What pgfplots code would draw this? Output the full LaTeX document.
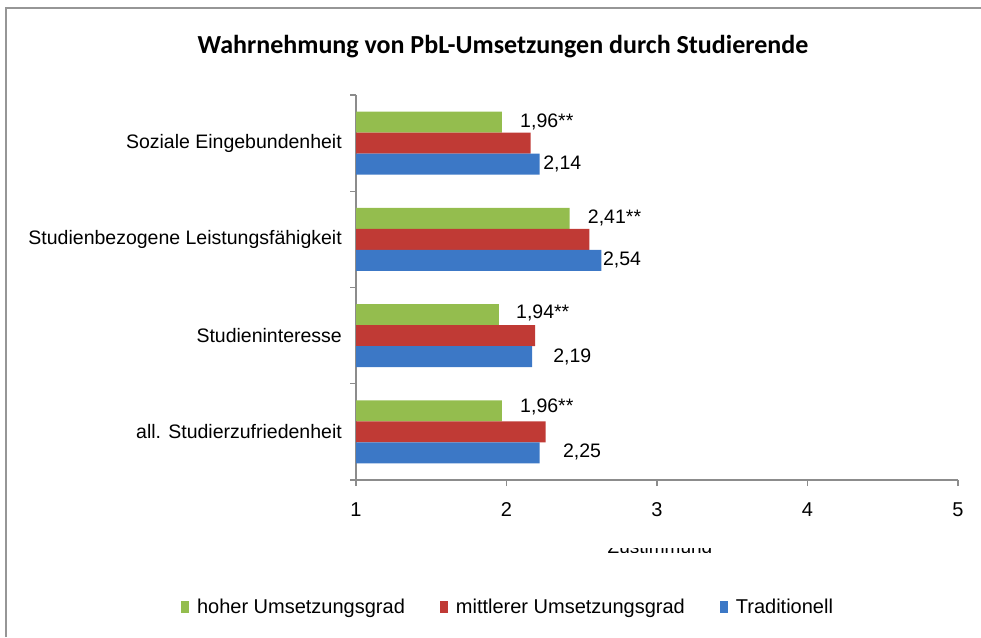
\documentclass[border=0pt]{standalone}
\usepackage{fontspec}
\setmainfont{Liberation Sans}
\newfontfamily\titlefont{Carlito}
\usepackage{pgfplots}
\pgfplotsset{compat=1.18}

\definecolor{grn}{RGB}{148,189,78}
\definecolor{rd}{RGB}{192,58,53}
\definecolor{bl}{RGB}{60,120,198}
\definecolor{axgray}{RGB}{140,140,140}
\definecolor{framegray}{RGB}{150,150,150}

\begin{document}
\begin{tikzpicture}
\path[use as bounding box] (0pt,0pt) rectangle (981pt,637pt);
\draw[framegray, line width=1.5pt] (6pt,0pt) -- (6pt,629pt) -- (981pt,629pt);

\node[font=\titlefont\bfseries\fontsize{26}{30}\selectfont] at (503pt,590pt)
  {Wahrnehmung von PbL-Umsetzungen durch Studierende};

% x axis title, cut off as in the original
\begin{scope}
  \clip (550pt,84.5pt) rectangle (770pt,88.5pt);
  \node[anchor=base, font=\fontsize{19}{22}\selectfont] at (660pt,84pt) {Zustimmung};
\end{scope}

\begin{axis}[
  at={(356pt,157pt)}, anchor=south west,
  width=602pt, height=385pt, scale only axis,
  xbar, bar width=21pt,
  xmin=1, xmax=5, ymin=-0.5, ymax=3.5,
  xtick={1,2,3,4,5},
  ytick={0,1,2,3},
  yticklabels={all. Studierzufriedenheit, Studieninteresse,
    Studienbezogene Leistungsfähigkeit, Soziale Eingebundenheit},
  minor ytick={-0.5,0.5,1.5,2.5,3.5},
  axis x line*=bottom, axis y line*=left,
  axis line style={axgray, line width=1.2pt},
  tick align=outside,
  major tick length=6pt, minor tick length=6pt,
  major x tick style={axgray, line width=1.2pt},
  major y tick style={draw=none},
  minor y tick style={axgray, line width=1.2pt},
  yticklabel style={font=\fontsize{19.5}{22}\selectfont, inner sep=0pt, xshift=-8pt},
  xticklabel style={font=\fontsize{20}{23}\selectfont, yshift=-13pt},
  /pgf/number format/assume math mode=true,
  legend style={at={(0.2525,-0.33)}, anchor=center, draw=none,
    font=\fontsize{20}{23}\selectfont, legend columns=3,
    /tikz/every even column/.append style={column sep=33pt}},
  legend image code/.code={\fill[#1] (0pt,-6pt) rectangle (8pt,6pt); \path (14pt,0pt);},
  clip=false,
]
\addplot[draw=none, fill=grn, bar shift=21pt]
  coordinates {(1.97,0) (1.95,1) (2.42,2) (1.97,3)};
\addlegendentry{hoher Umsetzungsgrad}
\addplot[draw=none, fill=rd, bar shift=0pt]
  coordinates {(2.26,0) (2.19,1) (2.55,2) (2.16,3)};
\addlegendentry{mittlerer Umsetzungsgrad}
\addplot[draw=none, fill=bl, bar shift=-21pt]
  coordinates {(2.22,0) (2.17,1) (2.63,2) (2.22,3)};
\addlegendentry{Traditionell}

\begin{scope}[every node/.style={anchor=west, inner sep=0pt, font=\fontsize{19.5}{22}\selectfont}]
\node at (axis cs:2.09,3.22) {1,96**};
\node at (axis cs:2.243,2.78) {2,14};
\node at (axis cs:2.54,2.22) {2,41**};
\node at (axis cs:2.64,1.786) {2,54};
\node at (axis cs:2.063,1.235) {1,94**};
\node at (axis cs:2.31,0.778) {2,19};
\node at (axis cs:2.09,0.258) {1,96**};
\node at (axis cs:2.375,-0.209) {2,25};
\end{scope}
\end{axis}
\end{tikzpicture}
\end{document}
